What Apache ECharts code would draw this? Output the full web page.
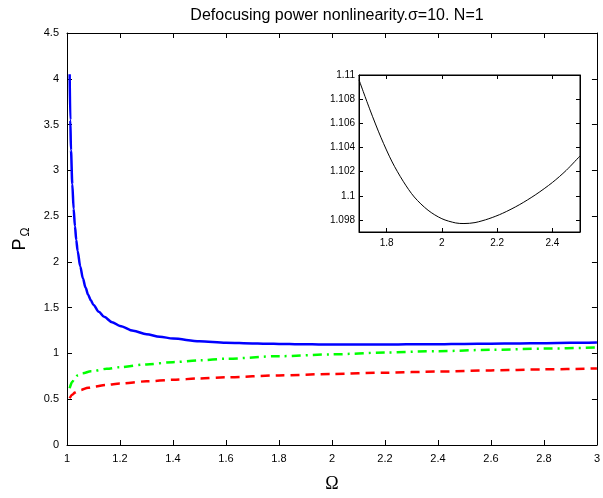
<!DOCTYPE html>
<html>
<head>
<meta charset="utf-8">
<script src="https://cdn.jsdelivr.net/npm/echarts@6/dist/echarts.min.js"></script>
<style>html,body{margin:0;padding:0;background:#fff;}#c{width:603px;height:498px;}</style>
</head>
<body>
<div id="c"></div>
<script>
// Blue solid curve (total power)
const omegaBlue = [1.01,1.0125,1.015,1.02,1.025,1.03,1.035,1.04,1.05,1.06,1.07,1.08,1.09,1.1,1.12,1.14,1.17,1.2,1.25,1.3,1.35,1.4,1.5,1.6,
                   1.7,1.74,1.78,1.82,1.86,1.9,1.95,2.0,2.05,2.08,2.12,2.17,2.22,2.28,2.34,2.4,2.45,2.5,2.6,2.7,2.8,2.9,3.0];
const powerBlue = [4.05,3.55,3.22,2.85,2.58,2.39,2.24,2.12,1.95,1.82,1.72,1.64,1.58,1.53,1.455,1.40,1.342,1.30,1.248,1.21,1.183,1.163,1.133,1.118,
                   1.1096,1.1071,1.1048,1.1028,1.1012,1.0999,1.0988,1.0981,1.09775,1.0977,1.09778,1.0981,1.09855,1.09925,1.1001,1.1011,1.1021,1.1033,1.1059,1.1088,1.112,1.1155,1.1192];
// Green dash-dot curve
const omegaGreen = [1.01,1.02,1.03,1.04,1.06,1.09,1.15,1.2,1.3,1.4,1.5,1.6,1.8,2.0,2.2,2.4,2.6,2.8,3.0];
const powerGreen = [0.62,0.69,0.735,0.76,0.785,0.805,0.832,0.85,0.88,0.905,0.925,0.942,0.97,0.99,1.01,1.025,1.04,1.053,1.065];
// Red dashed curve
const omegaRed = [1.01,1.02,1.03,1.05,1.08,1.1,1.15,1.2,1.3,1.4,1.5,1.6,1.8,2.0,2.2,2.4,2.6,2.8,3.0];
const powerRed = [0.51,0.55,0.573,0.6,0.625,0.637,0.657,0.672,0.695,0.712,0.727,0.74,0.76,0.776,0.79,0.802,0.815,0.826,0.836];
// Inset range and tick labels
const insetXRange = [1.7, 2.5];
const insetYRange = [1.097, 1.11];
const insetXTicks = [1.8,2,2.2,2.4];
const insetYTicks = [1.098,1.1,1.102,1.104,1.106,1.108,1.11];

const zip = (xs, ys) => xs.map((x, i) => [x, ys[i]]);
const FONT = 'Liberation Sans, Arial, sans-serif';
const axisCommon = {
  type: 'value',
  axisLine: {show: true, onZero: false, lineStyle: {color: '#000', width: 1}},
  axisTick: {show: true, inside: true, length: 5, lineStyle: {color: '#000'}},
  axisLabel: {color: '#000', fontSize: 11, fontFamily: FONT},
  splitLine: {show: false}
};
function ax(extra) { return Object.assign({}, JSON.parse(JSON.stringify(axisCommon)), extra); }
const insetTick = {show: true, inside: true, length: 4, lineStyle: {color: '#000'}};

const chart = echarts.init(document.getElementById('c'), null, {renderer: 'canvas'});
chart.setOption({
  animation: false,
  backgroundColor: '#fff',
  title: {
    text: 'Defocusing power nonlinearity.σ=10. N=1',
    left: 332, top: 3, textAlign: 'center',
    textStyle: {fontFamily: FONT, fontSize: 16, fontWeight: 'normal', color: '#000'}
  },
  grid: [
    {left: 65, right: 3, top: 33, bottom: 45, show: false},
    {left: 359, right: 23, top: 75, bottom: 266, show: true, backgroundColor: '#fff', borderColor: '#000', borderWidth: 1, z: 5}
  ],
  xAxis: [
    ax({gridIndex: 0, min: 1, max: 3, interval: 0.2, name: 'Ω', nameLocation: 'middle', nameGap: 30,
        nameTextStyle: {fontFamily: 'Liberation Serif, serif', fontSize: 18, color: '#000'}}),
    ax({gridIndex: 0, position: 'top', min: 1, max: 3, interval: 0.2, axisLabel: {show: false}}),
    ax({gridIndex: 1, min: insetXRange[0], max: insetXRange[1],
        axisLabel: {color: '#000', fontSize: 10, fontFamily: FONT, customValues: insetXTicks, margin: 6},
        axisTick: Object.assign({customValues: insetXTicks}, insetTick), z: 6}),
    ax({gridIndex: 1, position: 'top', min: insetXRange[0], max: insetXRange[1], axisLabel: {show: false},
        axisTick: Object.assign({customValues: insetXTicks}, insetTick), z: 6})
  ],
  yAxis: [
    ax({gridIndex: 0, min: 0, max: 4.5, interval: 0.5, name: '{p|P}{s|Ω}', nameLocation: 'middle', nameGap: 36,
        nameTextStyle: {rich: {p: {fontFamily: FONT, fontSize: 18, color: '#000', lineHeight: 22},
                               s: {fontFamily: FONT, fontSize: 12, color: '#000', padding: [12, 0, 0, 2], lineHeight: 22}}}}),
    ax({gridIndex: 0, position: 'right', min: 0, max: 4.5, interval: 0.5, axisLabel: {show: false}}),
    ax({gridIndex: 1, min: insetYRange[0], max: insetYRange[1],
        axisLabel: {color: '#000', fontSize: 10, fontFamily: FONT, customValues: insetYTicks, margin: 4},
        axisTick: Object.assign({customValues: insetYTicks}, insetTick), z: 6}),
    ax({gridIndex: 1, position: 'right', min: insetYRange[0], max: insetYRange[1], axisLabel: {show: false},
        axisTick: Object.assign({customValues: insetYTicks}, insetTick), z: 6})
  ],
  series: [
    {type: 'line', xAxisIndex: 0, yAxisIndex: 0, data: zip(omegaRed, powerRed), showSymbol: false, smooth: 0.3, smoothMonotone: 'x',
     lineStyle: {color: '#ff0000', width: 2.5, type: [9, 6]}},
    {type: 'line', xAxisIndex: 0, yAxisIndex: 0, data: zip(omegaGreen, powerGreen), showSymbol: false, smooth: 0.3, smoothMonotone: 'x',
     lineStyle: {color: '#00ff00', width: 2.5, type: [9, 5, 2, 5]}},
    {type: 'line', xAxisIndex: 0, yAxisIndex: 0, data: zip(omegaBlue, powerBlue), showSymbol: false, smooth: 0.3, smoothMonotone: 'x',
     lineStyle: {color: '#0000ff', width: 2.5}},
    {type: 'line', xAxisIndex: 2, yAxisIndex: 2,
     data: zip(omegaBlue, powerBlue).filter(p => p[0] >= insetXRange[0] && p[0] <= insetXRange[1]),
     showSymbol: false, smooth: 0.3, clip: true, z: 7, lineStyle: {color: '#000', width: 1}}
  ]
});
</script>
</body>
</html>
